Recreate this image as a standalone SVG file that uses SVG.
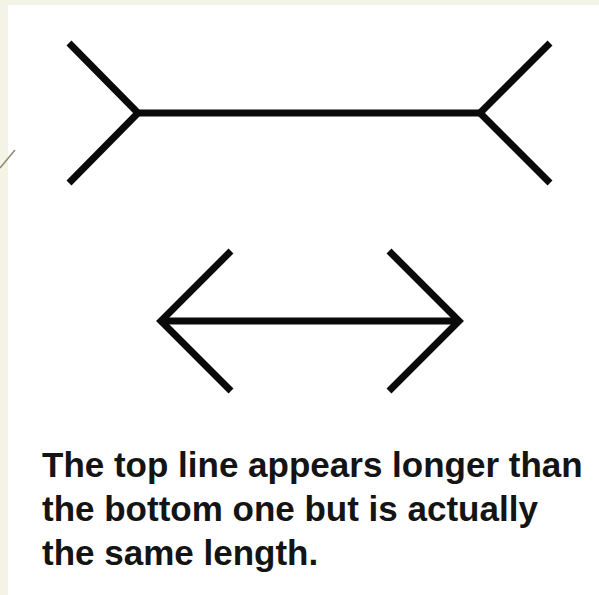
<svg xmlns="http://www.w3.org/2000/svg" width="599" height="595" viewBox="0 0 599 595">
  <style>
    .fig { fill: none; stroke: #0a0a0a; stroke-width: 7; stroke-linecap: butt; stroke-linejoin: miter; }
    .cap { font-family: "Liberation Sans", Arial, sans-serif; font-weight: bold; font-size: 35px; fill: #141414; }
  </style>
  <rect x="0" y="0" width="599" height="595" fill="#f4f4e6"/>
  <rect x="8" y="5" width="591" height="590" fill="#ffffff"/>
  <line x1="0" y1="168" x2="15" y2="150" stroke="#8c8c70" stroke-width="1.5"/>
  <g id="top-figure">
    <line class="fig" x1="138" y1="113" x2="480" y2="113"/>
    <polyline class="fig" points="69,43 138,113 69,183"/>
    <polyline class="fig" points="550,43 480,113 550,183"/>
  </g>
  <g id="bottom-figure">
    <line class="fig" x1="160" y1="321" x2="460" y2="321"/>
    <polyline class="fig" points="231,251 161,321 231,391"/>
    <polyline class="fig" points="389,251 459,321 389,391"/>
  </g>
  <g id="caption">
    <text class="cap" x="42" y="477">The top line appears longer than</text>
    <text class="cap" x="42" y="521">the bottom one but is actually</text>
    <text class="cap" x="42" y="565">the same length.</text>
  </g>
</svg>
